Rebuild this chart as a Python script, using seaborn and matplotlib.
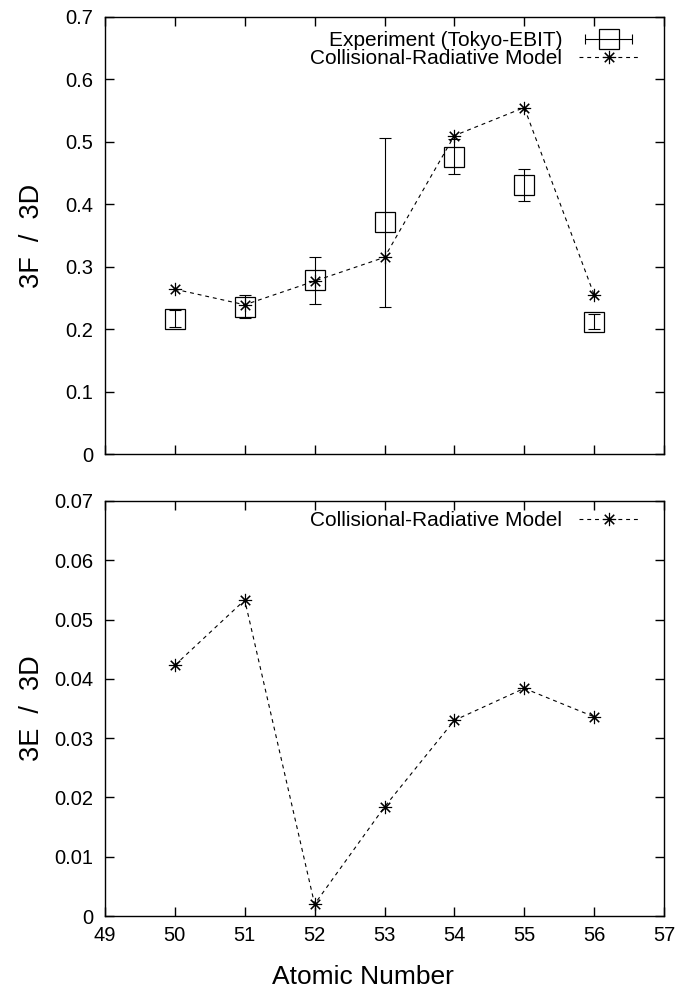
import numpy as np
import pandas as pd
import matplotlib
matplotlib.use("Agg")
import matplotlib.pyplot as plt
import seaborn as sns
from matplotlib.lines import Line2D
from matplotlib.legend_handler import HandlerLine2D, HandlerTuple

# ---- data ----
atomic_number = [50, 51, 52, 53, 54, 55, 56]
model_3f_3d = [0.264, 0.239, 0.277, 0.315, 0.510, 0.555, 0.255]
exp_3f_3d = [0.217, 0.236, 0.278, 0.371, 0.476, 0.431, 0.212]
exp_3f_3d_err = [0.013, 0.018, 0.037, 0.135, 0.028, 0.026, 0.012]
model_3e_3d = [0.0423, 0.0533, 0.0020, 0.0184, 0.0330, 0.0384, 0.0336]

xticks = [49, 50, 51, 52, 53, 54, 55, 56, 57]
yticks_top = [0, 0.1, 0.2, 0.3, 0.4, 0.5, 0.6, 0.7]
yticks_bot = [0, 0.01, 0.02, 0.03, 0.04, 0.05, 0.06, 0.07]

label_exp = "Experiment (Tokyo-EBIT)"
label_model = "Collisional-Radiative Model"

sns.set_theme(style="ticks")
plt.rcParams["font.family"] = ["Liberation Sans", "DejaVu Sans"]
plt.rcParams["axes.linewidth"] = 1.0
plt.rcParams["axes.edgecolor"] = "black"
plt.rcParams["text.color"] = "black"
plt.rcParams["axes.labelcolor"] = "black"
plt.rcParams["xtick.color"] = "black"
plt.rcParams["ytick.color"] = "black"

W, H = 677, 992
fig = plt.figure(figsize=(W / 100, H / 100), dpi=100)
L, R = 105, 664
ax1 = fig.add_axes([L / W, 1 - 454 / H, (R - L) / W, (454 - 17) / H])
ax2 = fig.add_axes([L / W, 1 - 916 / H, (R - L) / W, (916 - 501) / H])

STAR = (8, 2, 0)
dash = (0, (3.5, 3.5))
star_kw = dict(marker=STAR, markersize=9.5, markeredgewidth=0.8, markeredgecolor="black")

df_top = pd.DataFrame({"Z": atomic_number, "model": model_3f_3d,
                       "exp": exp_3f_3d, "err": exp_3f_3d_err})
df_bot = pd.DataFrame({"Z": atomic_number, "model": model_3e_3d})

# top panel
ax1.errorbar(df_top["Z"], df_top["exp"], yerr=df_top["err"], fmt="none",
             ecolor="black", elinewidth=0.8, capsize=4, capthick=0.8, zorder=2)
sns.lineplot(data=df_top, x="Z", y="exp", ax=ax1, linestyle="none", marker="s",
             markersize=14.4, markerfacecolor="none", markeredgecolor="black",
             markeredgewidth=0.9, color="black", zorder=3)
sns.lineplot(data=df_top, x="Z", y="model", ax=ax1, color="black", linewidth=0.8,
             linestyle=dash, zorder=4, **star_kw)

# bottom panel
sns.lineplot(data=df_bot, x="Z", y="model", ax=ax2, color="black", linewidth=0.8,
             linestyle=dash, zorder=4, **star_kw)

def fmt(v):
    return "0" if v == 0 else f"{v:g}"

for ax, yt, lim in [(ax1, yticks_top, 0.7), (ax2, yticks_bot, 0.07)]:
    ax.set_xlim(49, 57)
    ax.set_ylim(0, lim)
    ax.set_xticks(xticks)
    ax.set_yticks(yt)
    ax.set_yticklabels([fmt(v) for v in yt])
    ax.tick_params(direction="in", length=6.5, width=1.0, top=True, right=True,
                   labelsize=14.5, colors="black")
    ax.tick_params(axis="y", pad=8.5)
    ax.tick_params(axis="x", pad=7)
    for s in ax.spines.values():
        s.set_visible(True)
        s.set_color("black")

ax1.set_xticklabels([])
ax1.set_xlabel("")
ax2.set_xticklabels([str(v) for v in xticks])

ax1.set_ylabel("3F  /  3D", fontsize=19.5)
ax2.set_ylabel("3E  /  3D", fontsize=19.5)
ax1.yaxis.set_label_coords(-0.107, 0.5)
ax2.yaxis.set_label_coords(-0.107, 0.5)
ax2.set_xlabel("Atomic Number", fontsize=19)
ax2.xaxis.set_label_coords(0.4606, -0.118)

# legends
err_line = Line2D([0], [0], color="black", lw=0.8, marker="|", markersize=7,
                  markeredgewidth=0.8)
sq = Line2D([0], [0], linestyle="none", marker="s", markersize=14.4,
            markerfacecolor="none", markeredgecolor="black", markeredgewidth=0.9)
model_h = Line2D([0], [0], color="black", lw=0.8, linestyle=dash, **star_kw)

hmap = {err_line: HandlerLine2D(numpoints=2), tuple: HandlerTuple(ndivide=1, pad=0)}

ax1.legend([(err_line, sq), model_h], [label_exp, label_model], loc="upper right",
           bbox_to_anchor=(1 - 26 / 559, 1 - 14 / 437), borderaxespad=0, borderpad=0,
           frameon=False, markerfirst=False, fontsize=15, handlelength=2.83,
           handletextpad=0.8, labelspacing=-0.05, handler_map=hmap, numpoints=1)
ax2.legend([model_h], [label_model], loc="upper right",
           bbox_to_anchor=(1 - 26 / 559, 1 - 10 / 415), borderaxespad=0, borderpad=0,
           frameon=False, markerfirst=False, fontsize=15, handlelength=2.83,
           handletextpad=0.8, numpoints=1)

fig.savefig("out.png", dpi=100, facecolor="white")
